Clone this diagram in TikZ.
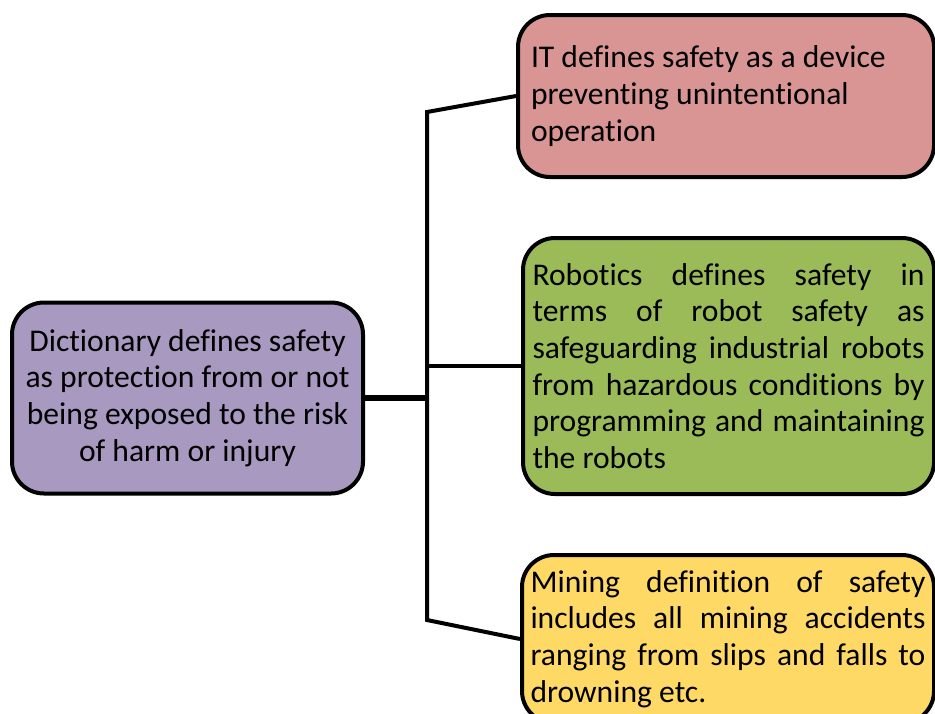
\documentclass[tikz,border=0pt]{standalone}
\usepackage{fontspec}
\setmainfont{Carlito}[Ligatures=NoCommon]
\definecolor{dictpurple}{RGB}{168,153,192}
\definecolor{itred}{RGB}{217,149,148}
\definecolor{robogreen}{RGB}{155,187,89}
\definecolor{mineyellow}{RGB}{255,217,102}
\newcommand{\jline}[2]{\makebox[#1][s]{\spaceskip=.2256em plus 1fil\relax #2}}
\newcommand{\natsp}{\spaceskip=.2256em\relax\xspaceskip=.2256em\relax}
\begin{document}
\begin{tikzpicture}[x=0.5pt,y=-0.5pt,
  box/.style={draw=black, line width=2pt, rounded corners=16pt, inner ysep=0pt,
              font=\fontsize{15.8pt}{18.3pt}\selectfont},
  conn/.style={draw=black, line width=2pt, line join=miter},
  mainconn/.style={draw=black, line width=3pt}]
\useasboundingbox (0,0) rectangle (935,713);
\clip (0,0) rectangle (935,713);

\node[box, fill=dictpurple, minimum width=175.5pt, minimum height=95.5pt,
      text width=172pt, align=center, inner xsep=0pt] (dict) at (187.5,398)
  {\natsp Dictionary defines safety\\ \natsp as protection from or not\\
   \natsp being exposed to the risk\\ \natsp of harm or injury};

\node[box, fill=itred, minimum height=81pt,
      text width=195pt, align=left, inner xsep=6.5pt] (it) at (726,96)
  {\natsp IT defines safety as a device\\ \natsp preventing unintentional\\ \natsp operation};

\node[box, fill=robogreen, minimum height=128pt,
      text width=196pt, align=left, inner xsep=4.75pt] (robo) at (728.5,366)
  {\jline{196pt}{Robotics defines safety in}\\
   \jline{196pt}{terms of robot safety as}\\
   \jline{196pt}{safeguarding industrial robots}\\
   \jline{196pt}{from hazardous conditions by}\\
   \jline{196pt}{programming and maintaining}\\
   \natsp the robots};

\node[box, fill=mineyellow, minimum height=84pt,
      text width=197.5pt, align=left, inner xsep=4.25pt] (mine) at (728,639)
  {\jline{197.5pt}{Mining definition of safety}\\
   \jline{197.5pt}{includes all mining accidents}\\
   \jline{197.5pt}{ranging from slips and falls to}\\
   \natsp drowning etc.};

\coordinate (jtop) at (427,112);
\coordinate (jbot) at (427,620);

\draw[conn] (it.west) -- (jtop) -- (jbot) -- (mine.west);
\draw[conn] (jtop |- robo.west) -- (robo.west);
\draw[mainconn] (dict.east) -- (jtop |- dict.east);
\end{tikzpicture}
\end{document}
